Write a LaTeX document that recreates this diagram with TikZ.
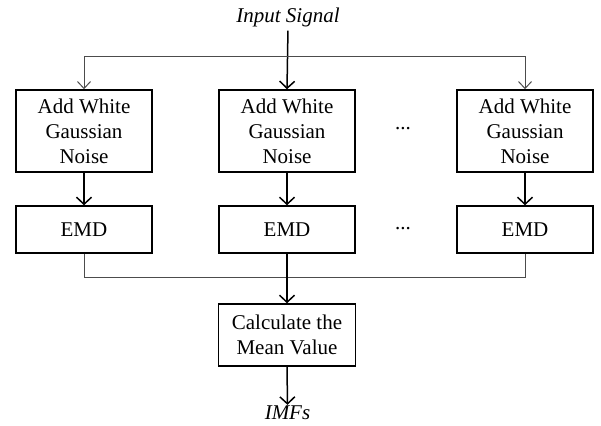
\documentclass[tikz,border=0pt]{standalone}
\usepackage{fontspec}
\setmainfont{Liberation Serif}
\usetikzlibrary{arrows.meta}
\begin{document}
\begin{tikzpicture}[x=1pt,y=-1pt,
  every node/.style={font=\fontsize{21}{25}\selectfont},
  procbox/.style={draw=black, line width=1.5pt, align=center, inner sep=0pt},
  label/.style={font=\fontsize{21}{25}\selectfont\itshape, inner sep=1pt},
  mainarrow/.style={draw=black, line width=1.5pt, -{Straight Barb[length=7pt,width=15pt,line width=1.5pt]}},
  brancharrow/.style={draw=black!70, line width=1pt, -{Straight Barb[length=7pt,width=13pt,line width=1pt]}},
  branchline/.style={draw=black!70, line width=1pt}]
\useasboundingbox (0,0) rectangle (601,425);

% input and output labels
\node[label] (in) at (288,17) {Input Signal};
\node[label] (out) at (287.5,413) {IMFs};

% noise injection boxes
\node[procbox, minimum width=136pt, minimum height=82pt] (a1) at (84,131) {Add White\\Gaussian\\Noise};
\node[procbox, minimum width=136pt, minimum height=82pt] (a2) at (287,131) {Add White\\Gaussian\\Noise};
\node[procbox, minimum width=136pt, minimum height=82pt] (a3) at (525,131) {Add White\\Gaussian\\Noise};

% decomposition boxes
\node[procbox, minimum width=136pt, minimum height=47pt] (e1) at (84,229.5) {EMD};
\node[procbox, minimum width=136pt, minimum height=47pt] (e2) at (287,229.5) {EMD};
\node[procbox, minimum width=136pt, minimum height=47pt] (e3) at (525,229.5) {EMD};

% ellipses between columns
\node (d1) at (403,129) {...};
\node (d2) at (403,229) {...};

% averaging box
\node[procbox, minimum width=137pt, minimum height=62pt] (m) at (287,335) {Calculate the\\Mean Value};

% split and join points
\coordinate (split) at (287,57);
\coordinate (join) at (287,277);

% connectors
\draw[mainarrow, shorten <=3pt] (in.south) -- (a2.north);
\draw[brancharrow] (split) -| (a1.north);
\draw[brancharrow] (split) -| (a3.north);
\draw[mainarrow] (a1.south) -- (e1.north);
\draw[mainarrow] (a2.south) -- (e2.north);
\draw[mainarrow] (a3.south) -- (e3.north);
\draw[branchline] (e1.south) |- (join);
\draw[branchline] (e3.south) |- (join);
\draw[mainarrow] (e2.south) -- (m.north);
\draw[mainarrow] (m.south) -- (out.north);
\end{tikzpicture}
\end{document}
